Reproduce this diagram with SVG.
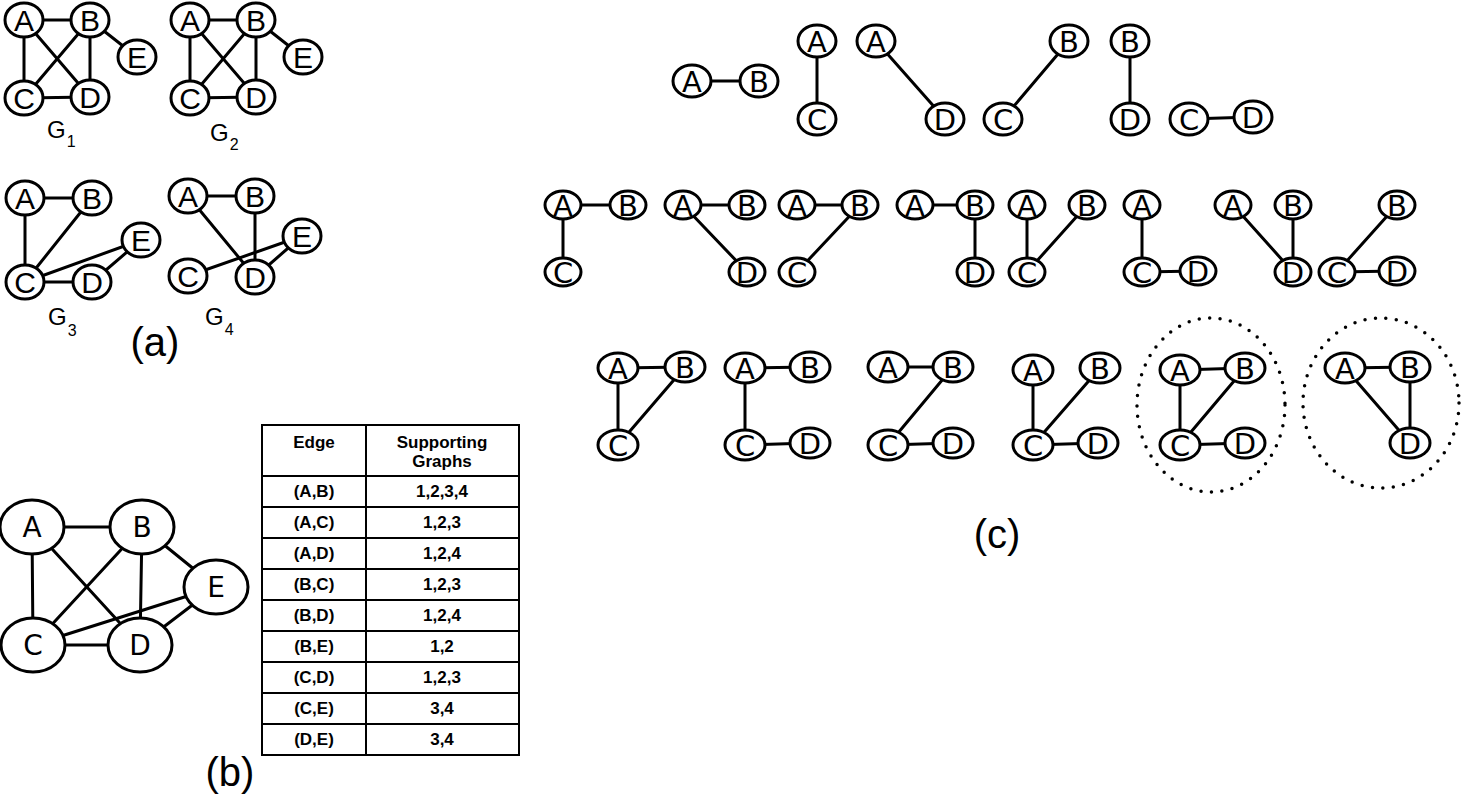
<svg xmlns="http://www.w3.org/2000/svg" width="1462" height="798" viewBox="0 0 1462 798">
<style>
.e line{stroke:#000;stroke-width:3;stroke-linecap:round}
ellipse{fill:#fff;stroke:#000;stroke-width:3}
.ta{font-family:"Liberation Sans",Arial,sans-serif;font-size:30px;text-anchor:middle}
.tb{font-family:"DejaVu Sans",sans-serif;font-size:28px;text-anchor:middle}
.tc{font-family:"DejaVu Sans",sans-serif;font-size:29px;text-anchor:middle}
.g{font-family:"Liberation Sans",Arial,sans-serif;font-size:24px}
.s{font-size:16px}
.lab{font-family:"Liberation Sans",Arial,sans-serif;font-size:40px;text-anchor:middle}
.tab line{stroke:#000;stroke-width:2}
.tt{font-family:"Liberation Sans",Arial,sans-serif;font-size:17px;font-weight:bold;text-anchor:middle}
.dot{fill:none;stroke:#000;stroke-width:3.5;stroke-dasharray:0 10.5;stroke-linecap:round}
</style>

<g id="connectors" class="e">
<!-- G1 -->
<line x1="24" y1="20" x2="90" y2="20"/><line x1="24" y1="20" x2="24" y2="98"/><line x1="24" y1="20" x2="90" y2="97"/><line x1="90" y1="20" x2="24" y2="98"/><line x1="90" y1="20" x2="90" y2="97"/><line x1="90" y1="20" x2="137" y2="57"/><line x1="24" y1="98" x2="90" y2="97"/>
<!-- G2 -->
<line x1="190" y1="20" x2="256" y2="20"/><line x1="190" y1="20" x2="190" y2="98"/><line x1="190" y1="20" x2="256" y2="97"/><line x1="256" y1="20" x2="190" y2="98"/><line x1="256" y1="20" x2="256" y2="97"/><line x1="256" y1="20" x2="303" y2="57"/><line x1="190" y1="98" x2="256" y2="97"/>
<!-- G3 -->
<line x1="25" y1="198" x2="92" y2="198"/><line x1="25" y1="198" x2="25" y2="282"/><line x1="92" y1="198" x2="25" y2="282"/><line x1="25" y1="282" x2="92" y2="282"/><line x1="25" y1="282" x2="141" y2="240"/><line x1="92" y1="282" x2="141" y2="240"/>
<!-- G4 -->
<line x1="188" y1="196" x2="255" y2="196"/><line x1="188" y1="196" x2="255" y2="277"/><line x1="255" y1="196" x2="255" y2="277"/><line x1="188" y1="276" x2="302" y2="236"/><line x1="255" y1="277" x2="302" y2="236"/>
<!-- (b) -->
<line x1="32" y1="527" x2="142" y2="527"/><line x1="32" y1="527" x2="33" y2="645"/><line x1="32" y1="527" x2="140" y2="645"/><line x1="142" y1="527" x2="33" y2="645"/><line x1="142" y1="527" x2="140" y2="645"/><line x1="142" y1="527" x2="216" y2="587"/><line x1="33" y1="645" x2="140" y2="645"/><line x1="33" y1="645" x2="216" y2="587"/><line x1="140" y1="645" x2="216" y2="587"/>
<!-- (c) row 1 -->
<line x1="692" y1="81" x2="759" y2="81"/>
<line x1="817" y1="41" x2="817" y2="119"/>
<line x1="876" y1="41" x2="945" y2="119"/>
<line x1="1069" y1="41" x2="1003" y2="119"/>
<line x1="1130" y1="41" x2="1130" y2="119"/>
<line x1="1189" y1="119" x2="1253" y2="117"/>
<!-- (c) row 2 -->
<line x1="563" y1="205" x2="628" y2="205"/><line x1="563" y1="205" x2="563" y2="272"/>
<line x1="683" y1="205" x2="747" y2="205"/><line x1="683" y1="205" x2="747" y2="272"/>
<line x1="797" y1="205" x2="860" y2="205"/><line x1="860" y1="205" x2="797" y2="272"/>
<line x1="915" y1="205" x2="975" y2="205"/><line x1="975" y1="205" x2="975" y2="272"/>
<line x1="1027" y1="205" x2="1027" y2="272"/><line x1="1087" y1="205" x2="1027" y2="272"/>
<line x1="1142" y1="205" x2="1142" y2="272"/><line x1="1142" y1="272" x2="1198" y2="271"/>
<line x1="1233" y1="205" x2="1293" y2="272"/><line x1="1293" y1="205" x2="1293" y2="272"/>
<line x1="1397" y1="205" x2="1337" y2="272"/><line x1="1337" y1="272" x2="1397" y2="271"/>
<!-- (c) row 3 -->
<line x1="618" y1="368" x2="685" y2="367"/><line x1="618" y1="368" x2="618" y2="445"/><line x1="685" y1="367" x2="618" y2="445"/>
<line x1="745" y1="368" x2="810" y2="367"/><line x1="745" y1="368" x2="745" y2="445"/><line x1="745" y1="445" x2="810" y2="443"/>
<line x1="888" y1="367" x2="953" y2="367"/><line x1="953" y1="367" x2="888" y2="445"/><line x1="888" y1="445" x2="953" y2="443"/>
<line x1="1033" y1="370" x2="1033" y2="445"/><line x1="1100" y1="368" x2="1033" y2="445"/><line x1="1033" y1="445" x2="1098" y2="443"/>
<line x1="1180" y1="370" x2="1245" y2="368"/><line x1="1180" y1="370" x2="1180" y2="445"/><line x1="1245" y1="368" x2="1180" y2="445"/><line x1="1180" y1="445" x2="1245" y2="443"/>
<line x1="1345" y1="368" x2="1410" y2="367"/><line x1="1345" y1="368" x2="1410" y2="443"/><line x1="1410" y1="367" x2="1410" y2="443"/>
</g>

<!-- (a) nodes -->
<g id="g1">
<g id="g1-A"><ellipse cx="24" cy="20" rx="19" ry="17"/><text class="ta" x="24" y="31">A</text></g>
<g id="g1-B"><ellipse cx="90" cy="20" rx="19" ry="17"/><text class="ta" x="90" y="31">B</text></g>
<g id="g1-C"><ellipse cx="24" cy="98" rx="19" ry="17"/><text class="ta" x="24" y="109">C</text></g>
<g id="g1-D"><ellipse cx="90" cy="97" rx="19" ry="17"/><text class="ta" x="90" y="108">D</text></g>
<g id="g1-E"><ellipse cx="137" cy="57" rx="19" ry="17"/><text class="ta" x="137" y="68">E</text></g>
<text class="g" x="47" y="138">G<tspan class="s" dx="1" dy="9">1</tspan></text>
</g>
<g id="g2">
<g id="g2-A"><ellipse cx="190" cy="20" rx="19" ry="17"/><text class="ta" x="190" y="31">A</text></g>
<g id="g2-B"><ellipse cx="256" cy="20" rx="19" ry="17"/><text class="ta" x="256" y="31">B</text></g>
<g id="g2-C"><ellipse cx="190" cy="98" rx="19" ry="17"/><text class="ta" x="190" y="109">C</text></g>
<g id="g2-D"><ellipse cx="256" cy="97" rx="19" ry="17"/><text class="ta" x="256" y="108">D</text></g>
<g id="g2-E"><ellipse cx="303" cy="57" rx="19" ry="17"/><text class="ta" x="303" y="68">E</text></g>
<text class="g" x="210" y="141">G<tspan class="s" dx="1" dy="9">2</tspan></text>
</g>
<g id="g3">
<g id="g3-A"><ellipse cx="25" cy="198" rx="19" ry="17"/><text class="ta" x="25" y="209">A</text></g>
<g id="g3-B"><ellipse cx="92" cy="198" rx="19" ry="17"/><text class="ta" x="92" y="209">B</text></g>
<g id="g3-C"><ellipse cx="25" cy="282" rx="19" ry="17"/><text class="ta" x="25" y="293">C</text></g>
<g id="g3-D"><ellipse cx="92" cy="282" rx="19" ry="17"/><text class="ta" x="92" y="293">D</text></g>
<g id="g3-E"><ellipse cx="141" cy="240" rx="19" ry="17"/><text class="ta" x="141" y="251">E</text></g>
<text class="g" x="48" y="325">G<tspan class="s" dx="1" dy="11">3</tspan></text>
</g>
<g id="g4">
<g id="g4-A"><ellipse cx="188" cy="196" rx="19" ry="17"/><text class="ta" x="188" y="207">A</text></g>
<g id="g4-B"><ellipse cx="255" cy="196" rx="19" ry="17"/><text class="ta" x="255" y="207">B</text></g>
<g id="g4-C"><ellipse cx="188" cy="276" rx="19" ry="17"/><text class="ta" x="188" y="287">C</text></g>
<g id="g4-D"><ellipse cx="255" cy="277" rx="19" ry="17"/><text class="ta" x="255" y="288">D</text></g>
<g id="g4-E"><ellipse cx="302" cy="236" rx="19" ry="17"/><text class="ta" x="302" y="247">E</text></g>
<text class="g" x="205" y="325">G<tspan class="s" dx="1" dy="10">4</tspan></text>
</g>
<text class="lab" x="155" y="356">(a)</text>

<!-- (b) -->
<g id="b">
<g id="b-A"><ellipse cx="32" cy="527" rx="32" ry="27"/><text class="tb" x="32" y="537">A</text></g>
<g id="b-B"><ellipse cx="142" cy="527" rx="32" ry="27"/><text class="tb" x="142" y="537">B</text></g>
<g id="b-C"><ellipse cx="33" cy="645" rx="32" ry="27"/><text class="tb" x="33" y="655">C</text></g>
<g id="b-D"><ellipse cx="140" cy="645" rx="32" ry="27"/><text class="tb" x="140" y="655">D</text></g>
<g id="b-E"><ellipse cx="216" cy="587" rx="32" ry="27"/><text class="tb" x="216" y="597">E</text></g>
</g>
<text class="lab" x="230" y="786">(b)</text>

<!-- table -->
<g id="table">
<g class="tab">
<line x1="262" y1="425" x2="519" y2="425"/>
<line x1="262" y1="476" x2="519" y2="476"/>
<line x1="262" y1="507" x2="519" y2="507"/>
<line x1="262" y1="538" x2="519" y2="538"/>
<line x1="262" y1="569" x2="519" y2="569"/>
<line x1="262" y1="600" x2="519" y2="600"/>
<line x1="262" y1="631" x2="519" y2="631"/>
<line x1="262" y1="662" x2="519" y2="662"/>
<line x1="262" y1="693" x2="519" y2="693"/>
<line x1="262" y1="724" x2="519" y2="724"/>
<line x1="262" y1="755" x2="519" y2="755"/>
<line x1="262" y1="424" x2="262" y2="756"/>
<line x1="366" y1="424" x2="366" y2="756"/>
<line x1="519" y1="424" x2="519" y2="756"/>
</g>
<text class="tt" x="314" y="448">Edge</text>
<text class="tt" x="442" y="448">Supporting</text>
<text class="tt" x="442" y="467">Graphs</text>
<text class="tt" x="314" y="497">(A,B)</text><text class="tt" x="442" y="497">1,2,3,4</text>
<text class="tt" x="314" y="528">(A,C)</text><text class="tt" x="442" y="528">1,2,3</text>
<text class="tt" x="314" y="559">(A,D)</text><text class="tt" x="442" y="559">1,2,4</text>
<text class="tt" x="314" y="590">(B,C)</text><text class="tt" x="442" y="590">1,2,3</text>
<text class="tt" x="314" y="621">(B,D)</text><text class="tt" x="442" y="621">1,2,4</text>
<text class="tt" x="314" y="652">(B,E)</text><text class="tt" x="442" y="652">1,2</text>
<text class="tt" x="314" y="683">(C,D)</text><text class="tt" x="442" y="683">1,2,3</text>
<text class="tt" x="314" y="714">(C,E)</text><text class="tt" x="442" y="714">3,4</text>
<text class="tt" x="314" y="745">(D,E)</text><text class="tt" x="442" y="745">3,4</text>
</g>

<!-- (c) row 1 -->
<g id="c1">
<g id="c1-A"><ellipse cx="692" cy="81" rx="19" ry="16"/><text class="tc" x="692" y="91.5">A</text></g>
<g id="c1-B"><ellipse cx="759" cy="81" rx="19" ry="16"/><text class="tc" x="759" y="91.5">B</text></g>
</g>
<g id="c2">
<g id="c2-A"><ellipse cx="817" cy="41" rx="19" ry="16"/><text class="tc" x="817" y="51.5">A</text></g>
<g id="c2-C"><ellipse cx="817" cy="119" rx="19" ry="16"/><text class="tc" x="817" y="129.5">C</text></g>
</g>
<g id="c3">
<g id="c3-A"><ellipse cx="876" cy="41" rx="19" ry="16"/><text class="tc" x="876" y="51.5">A</text></g>
<g id="c3-D"><ellipse cx="945" cy="119" rx="19" ry="16"/><text class="tc" x="945" y="129.5">D</text></g>
</g>
<g id="c4">
<g id="c4-B"><ellipse cx="1069" cy="41" rx="19" ry="16"/><text class="tc" x="1069" y="51.5">B</text></g>
<g id="c4-C"><ellipse cx="1003" cy="119" rx="19" ry="16"/><text class="tc" x="1003" y="129.5">C</text></g>
</g>
<g id="c5">
<g id="c5-B"><ellipse cx="1130" cy="41" rx="19" ry="16"/><text class="tc" x="1130" y="51.5">B</text></g>
<g id="c5-D"><ellipse cx="1130" cy="119" rx="19" ry="16"/><text class="tc" x="1130" y="129.5">D</text></g>
</g>
<g id="c6">
<g id="c6-C"><ellipse cx="1189" cy="119" rx="19" ry="16"/><text class="tc" x="1189" y="129.5">C</text></g>
<g id="c6-D"><ellipse cx="1253" cy="117" rx="19" ry="16"/><text class="tc" x="1253" y="127.5">D</text></g>
</g>

<!-- (c) row 2 -->
<g id="d1">
<g id="d1-A"><ellipse cx="563" cy="205" rx="18" ry="14"/><text class="tc" x="563" y="215.5">A</text></g>
<g id="d1-B"><ellipse cx="628" cy="205" rx="18" ry="14"/><text class="tc" x="628" y="215.5">B</text></g>
<g id="d1-C"><ellipse cx="563" cy="272" rx="18" ry="14"/><text class="tc" x="563" y="282.5">C</text></g>
</g>
<g id="d2">
<g id="d2-A"><ellipse cx="683" cy="205" rx="18" ry="14"/><text class="tc" x="683" y="215.5">A</text></g>
<g id="d2-B"><ellipse cx="747" cy="205" rx="18" ry="14"/><text class="tc" x="747" y="215.5">B</text></g>
<g id="d2-D"><ellipse cx="747" cy="272" rx="18" ry="14"/><text class="tc" x="747" y="282.5">D</text></g>
</g>
<g id="d3">
<g id="d3-A"><ellipse cx="797" cy="205" rx="18" ry="14"/><text class="tc" x="797" y="215.5">A</text></g>
<g id="d3-B"><ellipse cx="860" cy="205" rx="18" ry="14"/><text class="tc" x="860" y="215.5">B</text></g>
<g id="d3-C"><ellipse cx="797" cy="272" rx="18" ry="14"/><text class="tc" x="797" y="282.5">C</text></g>
</g>
<g id="d4">
<g id="d4-A"><ellipse cx="915" cy="205" rx="18" ry="14"/><text class="tc" x="915" y="215.5">A</text></g>
<g id="d4-B"><ellipse cx="975" cy="205" rx="18" ry="14"/><text class="tc" x="975" y="215.5">B</text></g>
<g id="d4-D"><ellipse cx="975" cy="272" rx="18" ry="14"/><text class="tc" x="975" y="282.5">D</text></g>
</g>
<g id="d5">
<g id="d5-A"><ellipse cx="1027" cy="205" rx="18" ry="14"/><text class="tc" x="1027" y="215.5">A</text></g>
<g id="d5-B"><ellipse cx="1087" cy="205" rx="18" ry="14"/><text class="tc" x="1087" y="215.5">B</text></g>
<g id="d5-C"><ellipse cx="1027" cy="272" rx="18" ry="14"/><text class="tc" x="1027" y="282.5">C</text></g>
</g>
<g id="d6">
<g id="d6-A"><ellipse cx="1142" cy="205" rx="18" ry="14"/><text class="tc" x="1142" y="215.5">A</text></g>
<g id="d6-C"><ellipse cx="1142" cy="272" rx="18" ry="14"/><text class="tc" x="1142" y="282.5">C</text></g>
<g id="d6-D"><ellipse cx="1198" cy="271" rx="18" ry="14"/><text class="tc" x="1198" y="281.5">D</text></g>
</g>
<g id="d7">
<g id="d7-A"><ellipse cx="1233" cy="205" rx="18" ry="14"/><text class="tc" x="1233" y="215.5">A</text></g>
<g id="d7-B"><ellipse cx="1293" cy="205" rx="18" ry="14"/><text class="tc" x="1293" y="215.5">B</text></g>
<g id="d7-D"><ellipse cx="1293" cy="272" rx="18" ry="14"/><text class="tc" x="1293" y="282.5">D</text></g>
</g>
<g id="d8">
<g id="d8-B"><ellipse cx="1397" cy="205" rx="18" ry="14"/><text class="tc" x="1397" y="215.5">B</text></g>
<g id="d8-C"><ellipse cx="1337" cy="272" rx="18" ry="14"/><text class="tc" x="1337" y="282.5">C</text></g>
<g id="d8-D"><ellipse cx="1397" cy="271" rx="18" ry="14"/><text class="tc" x="1397" y="281.5">D</text></g>
</g>

<!-- (c) row 3 -->
<g id="k1">
<g id="k1-A"><ellipse cx="618" cy="368" rx="20" ry="15"/><text class="tc" x="618" y="378.5">A</text></g>
<g id="k1-B"><ellipse cx="685" cy="367" rx="20" ry="15"/><text class="tc" x="685" y="377.5">B</text></g>
<g id="k1-C"><ellipse cx="618" cy="445" rx="20" ry="15"/><text class="tc" x="618" y="455.5">C</text></g>
</g>
<g id="k2">
<g id="k2-A"><ellipse cx="745" cy="368" rx="20" ry="15"/><text class="tc" x="745" y="378.5">A</text></g>
<g id="k2-B"><ellipse cx="810" cy="367" rx="20" ry="15"/><text class="tc" x="810" y="377.5">B</text></g>
<g id="k2-C"><ellipse cx="745" cy="445" rx="20" ry="15"/><text class="tc" x="745" y="455.5">C</text></g>
<g id="k2-D"><ellipse cx="810" cy="443" rx="20" ry="15"/><text class="tc" x="810" y="453.5">D</text></g>
</g>
<g id="k3">
<g id="k3-A"><ellipse cx="888" cy="367" rx="20" ry="15"/><text class="tc" x="888" y="377.5">A</text></g>
<g id="k3-B"><ellipse cx="953" cy="367" rx="20" ry="15"/><text class="tc" x="953" y="377.5">B</text></g>
<g id="k3-C"><ellipse cx="888" cy="445" rx="20" ry="15"/><text class="tc" x="888" y="455.5">C</text></g>
<g id="k3-D"><ellipse cx="953" cy="443" rx="20" ry="15"/><text class="tc" x="953" y="453.5">D</text></g>
</g>
<g id="k4">
<g id="k4-A"><ellipse cx="1033" cy="370" rx="20" ry="15"/><text class="tc" x="1033" y="380.5">A</text></g>
<g id="k4-B"><ellipse cx="1100" cy="368" rx="20" ry="15"/><text class="tc" x="1100" y="378.5">B</text></g>
<g id="k4-C"><ellipse cx="1033" cy="445" rx="20" ry="15"/><text class="tc" x="1033" y="455.5">C</text></g>
<g id="k4-D"><ellipse cx="1098" cy="443" rx="20" ry="15"/><text class="tc" x="1098" y="453.5">D</text></g>
</g>
<g id="k5">
<ellipse class="dot" cx="1211" cy="405" rx="74" ry="87"/>
<g id="k5-A"><ellipse cx="1180" cy="370" rx="20" ry="15"/><text class="tc" x="1180" y="380.5">A</text></g>
<g id="k5-B"><ellipse cx="1245" cy="368" rx="20" ry="15"/><text class="tc" x="1245" y="378.5">B</text></g>
<g id="k5-C"><ellipse cx="1180" cy="445" rx="20" ry="15"/><text class="tc" x="1180" y="455.5">C</text></g>
<g id="k5-D"><ellipse cx="1245" cy="443" rx="20" ry="15"/><text class="tc" x="1245" y="453.5">D</text></g>
</g>
<g id="k6">
<ellipse class="dot" cx="1381" cy="403" rx="78" ry="85"/>
<g id="k6-A"><ellipse cx="1345" cy="368" rx="20" ry="15"/><text class="tc" x="1345" y="378.5">A</text></g>
<g id="k6-B"><ellipse cx="1410" cy="367" rx="20" ry="15"/><text class="tc" x="1410" y="377.5">B</text></g>
<g id="k6-D"><ellipse cx="1410" cy="443" rx="20" ry="15"/><text class="tc" x="1410" y="453.5">D</text></g>
</g>
<text class="lab" x="997" y="548">(c)</text>
</svg>
